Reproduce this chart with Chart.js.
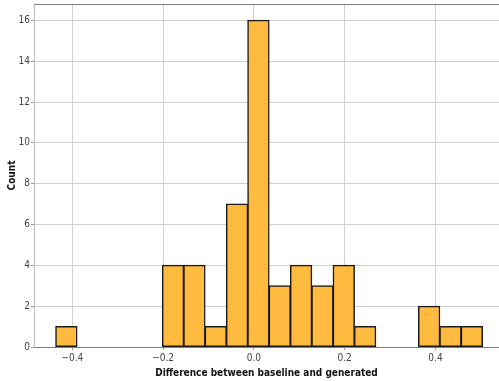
<!DOCTYPE html>
<html>
<head>
<meta charset="utf-8">
<script src="https://cdn.jsdelivr.net/npm/chart.js@4/dist/chart.umd.min.js"></script>
<style>
  html, body { margin: 0; padding: 0; background: #ffffff; }
  #wrap { width: 499px; height: 381px; }
</style>
</head>
<body>
<div id="wrap"><canvas id="hist"></canvas></div>
<script>
// histogram bins (left edge of first bin, bin width) and counts
const binStart = -0.4366;
const binWidth = 0.04701;
const counts = [1, 0, 0, 0, 0, 4, 4, 1, 7, 16, 3, 4, 3, 4, 1, 0, 0, 2, 1, 1];
const xTicks = [-0.4, -0.2, 0, 0.2, 0.4];
const yTicks = [0, 2, 4, 6, 8, 10, 12, 14, 16];

const points = counts.map((c, i) => ({ x: binStart + binWidth * (i + 0.5), y: c }));

const tickFont = "'DejaVu Sans Condensed', 'DejaVu Sans', sans-serif";
const titleFont = "'DejaVu Sans Condensed', 'DejaVu Sans', sans-serif";

const frameLines = {
  id: 'frameLines',
  afterDraw(chart) {
    const { ctx, chartArea } = chart;
    ctx.save();
    ctx.strokeStyle = '#7f7f7f';
    ctx.lineWidth = 1;
    ctx.beginPath();
    ctx.moveTo(chartArea.left, chartArea.top + 0.5);
    ctx.lineTo(chartArea.right, chartArea.top + 0.5);
    ctx.stroke();
    ctx.restore();
  }
};

new Chart(document.getElementById('hist').getContext('2d'), {
  type: 'bar',
  data: {
    datasets: [{
      data: points,
      backgroundColor: ctx => (ctx.raw && ctx.raw.y > 0 ? '#ffbb40' : 'rgba(0,0,0,0)'),
      borderColor: '#1a1a1a',
      borderWidth: ctx => (ctx.raw && ctx.raw.y > 0 ? 1.5 : 0),
      borderSkipped: false,
      inflateAmount: 0.5,
      barPercentage: 1,
      categoryPercentage: 1
    }]
  },
  options: {
    responsive: true,
    maintainAspectRatio: false,
    animation: false,
    layout: { padding: { top: 4, right: 0, left: 0, bottom: 0 } },
    plugins: {
      legend: { display: false },
      tooltip: { enabled: false }
    },
    scales: {
      x: {
        type: 'linear',
        offset: false,
        min: -0.4844,
        max: 0.54,
        afterBuildTicks: axis => { axis.ticks = xTicks.map(v => ({ value: v })); },
        afterFit: axis => { axis.height = 34; axis.paddingLeft = 0; axis.paddingRight = 0; },
        ticks: {
          color: '#444',
          font: { family: tickFont, size: 10 },
          padding: 2,
          maxRotation: 0,
          callback: v => (v < 0 ? '\u2212' + Math.abs(v).toFixed(1) : v.toFixed(1))
        },
        grid: { offset: false, color: '#d0d0d0', lineWidth: 1, tickLength: 3, tickColor: '#999' },
        border: { color: '#7f7f7f', width: 1 },
        title: {
          display: true,
          text: 'Difference between baseline and generated',
          color: '#111',
          font: { family: titleFont, size: 10, weight: 'bold' },
          padding: { top: 0, bottom: 2 }
        }
      },
      y: {
        min: 0,
        max: 16.8,
        afterBuildTicks: axis => { axis.ticks = yTicks.map(v => ({ value: v })); },
        afterFit: axis => { axis.width = 34; axis.paddingTop = 0; axis.paddingBottom = 0; },
        ticks: {
          color: '#444',
          font: { family: tickFont, size: 10 },
          padding: 1
        },
        grid: { color: '#d0d0d0', lineWidth: 1, tickLength: 3, tickColor: '#999' },
        border: { color: '#bdbdbd', width: 1 },
        title: {
          display: true,
          text: 'Count',
          color: '#111',
          font: { family: titleFont, size: 10, weight: 'bold' },
          padding: { top: 6, bottom: 2 }
        }
      }
    }
  },
  plugins: [frameLines]
});
</script>
</body>
</html>
